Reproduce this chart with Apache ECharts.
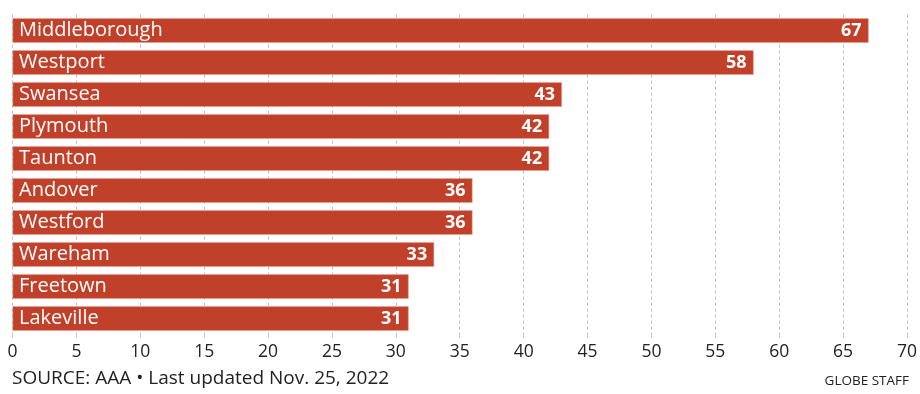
<!DOCTYPE html>
<html><head><meta charset="utf-8">
<script src="https://cdn.jsdelivr.net/npm/echarts@6/dist/echarts.min.js"></script>
<style>html,body{margin:0;padding:0;background:#fff}#c{width:920px;height:394px}</style>
</head><body><div id="c"></div>
<script>
const categories = ["Middleborough","Westport","Swansea","Plymouth","Taunton","Andover","Westford","Wareham","Freetown","Lakeville"];
const values = [67,58,43,42,42,36,36,33,31,31];
const xTicks = [0,5,10,15,20,25,30,35,40,45,50,55,60,65,70];
const sourceText = "SOURCE: AAA \u2022 Last updated Nov. 25, 2022";
const creditText = "GLOBE STAFF";
const font = "Open Sans";
const chart = echarts.init(document.getElementById('c'));
chart.setOption({
  animation:false,
  grid:{left:12.5,right:9.5,top:14.6,bottom:59.4},
  xAxis:{type:'value',min:0,max:70,interval:5,
    axisLine:{show:false},
    axisTick:{show:true,length:3,lineStyle:{color:'#bbb'}},
    splitLine:{show:true,lineStyle:{type:[3,3],color:'#bdbdbd',width:1}},
    axisLabel:{fontFamily:font,fontSize:17.5,color:'#222',margin:8,
      formatter:v=>xTicks.includes(v)?String(v):''}},
  yAxis:{type:'category',data:categories,inverse:true,
    axisLine:{show:false},axisTick:{show:false},axisLabel:{show:false}},
  series:[
    {type:'bar',data:values,barCategoryGap:'23%',
     itemStyle:{color:'#c1402a',borderColor:'#e6a597',borderWidth:0.6},
     label:{show:true,position:'insideLeft',offset:[1.5,0],formatter:p=>p.name,
       fontFamily:font,fontSize:20,color:'#fff'}},
    {type:'bar',data:values,barGap:'-100%',barCategoryGap:'23%',
     itemStyle:{color:'rgba(0,0,0,0)'},silent:true,
     label:{show:true,position:'insideRight',offset:[-2,0],formatter:p=>p.value,
       fontFamily:font,fontSize:18,fontWeight:'bold',color:'#fff'}}
  ],
  graphic:[
    {type:'text',left:12,top:369,style:{text:sourceText,font:'19px "Open Sans"',fill:'#222'}},
    {type:'text',right:11,top:374,style:{text:creditText,font:'500 13.5px "Open Sans"',fill:'#222'}}
  ]
});
</script></body></html>
